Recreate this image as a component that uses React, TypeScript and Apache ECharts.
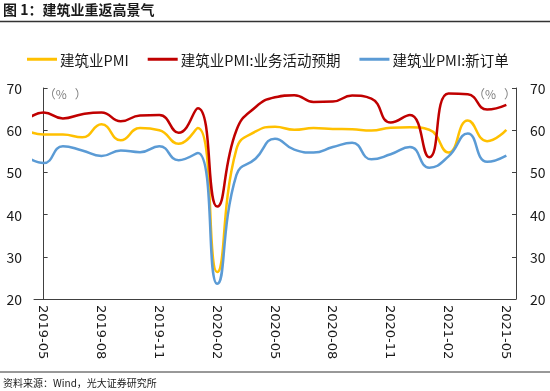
import React, { useEffect, useRef } from 'react';
import * as echarts from 'echarts';

// Months of data (first month lies just left of the plotted window and is clipped)
const dataMonths = [
  '2019-04', '2019-05', '2019-06', '2019-07', '2019-08', '2019-09', '2019-10', '2019-11', '2019-12',
  '2020-01', '2020-02', '2020-03', '2020-04', '2020-05', '2020-06', '2020-07', '2020-08', '2020-09',
  '2020-10', '2020-11', '2020-12', '2021-01', '2021-02', '2021-03', '2021-04', '2021-05',
];
const axisMonths = dataMonths.slice(1);

const seriesNames = ['建筑业PMI', '建筑业PMI:业务活动预期', '建筑业PMI:新订单'];

const pmi = [
  60.2, 59.0, 59.0, 58.3, 61.4, 57.6, 60.5, 60.0, 56.8,
  60.5, 26.4, 55.5, 59.7, 60.8, 60.1, 60.5, 60.3, 60.2,
  59.9, 60.6, 60.7, 60.1, 54.7, 62.3, 57.4, 60.1,
];
const expectation = [
  62.0, 64.2, 62.8, 63.8, 64.2, 62.1, 63.5, 63.6, 59.4,
  65.2, 41.9, 60.0, 65.5, 67.8, 68.3, 66.7, 66.8, 68.2,
  67.5, 61.8, 63.6, 53.6, 68.7, 68.5, 64.9, 66.0,
];
const newOrders = [
  54.0, 52.2, 56.2, 55.2, 53.9, 55.2, 54.8, 56.2, 52.9,
  54.6, 23.6, 49.4, 53.3, 58.0, 55.4, 54.7, 56.0, 57.0,
  53.1, 54.3, 56.0, 51.1, 53.8, 59.2, 52.5, 54.0,
];

const yMin = 20;
const yMax = 70;
const yStep = 10;
const unitText = '（%   ）';

const colors = ['#FFC000', '#C00000', '#5B9BD5'];
const CJK = '"Noto Sans CJK SC", "Noto Sans", sans-serif';

export default function App() {
  const ref = useRef<HTMLDivElement>(null);

  useEffect(() => {
    const chart = echarts.init(ref.current as HTMLDivElement, null, { renderer: 'svg' });
    const toXY = (arr: number[]) => arr.map((v, k) => [k - 1, v]);
    const yAxisBase = {
      type: 'value',
      min: yMin,
      max: yMax,
      interval: yStep,
      name: unitText,
      nameLocation: 'end',
      nameGap: -11,
      axisLine: { show: true, lineStyle: { color: '#404040', width: 1 } },
      axisTick: { show: true, inside: true, length: 4, lineStyle: { color: '#404040' } },
      splitLine: { show: false },
      axisLabel: { color: '#1a1a1a', fontSize: 14, fontFamily: CJK },
    };
    chart.setOption({
      animation: false,
      color: colors,
      title: {
        text: '图 1：建筑业重返高景气',
        left: 3,
        top: 2,
        padding: 0,
        textStyle: { fontSize: 14, fontWeight: 'bold', color: '#1a1a1a', fontFamily: CJK },
      },
      legend: {
        data: seriesNames,
        left: 22,
        top: 47,
        icon: 'rect',
        itemWidth: 30,
        itemHeight: 3,
        itemGap: 19,
        textStyle: { fontSize: 14.5, color: '#1a1a1a', fontFamily: CJK, padding: [0, 0, 0, -2] },
      },
      grid: { left: 34, right: 34, top: 88, bottom: 92, containLabel: false },
      xAxis: [
        {
          type: 'category',
          data: axisMonths,
          boundaryGap: true,
          axisLine: { lineStyle: { color: '#404040', width: 1 } },
          axisTick: { interval: 2, length: 4, lineStyle: { color: '#404040' } },
          axisLabel: {
            interval: 2,
            rotate: -90,
            color: '#1a1a1a',
            fontSize: 13,
            fontFamily: '"DejaVu Sans", sans-serif',
            margin: 6,
          },
        },
        {
          type: 'value',
          min: -0.5,
          max: axisMonths.length - 0.5,
          show: false,
        },
      ],
      yAxis: [
        {
          ...yAxisBase,
          position: 'left',
          nameTextStyle: { fontSize: 12, color: '#7f7f7f', fontFamily: CJK, align: 'left', padding: [0, 0, 0, 0] },
          axisLabel: { ...yAxisBase.axisLabel, margin: 12 },
        },
        {
          ...yAxisBase,
          position: 'right',
          nameTextStyle: { fontSize: 12, color: '#7f7f7f', fontFamily: CJK, align: 'right', padding: [0, 0, 0, 0] },
          axisLabel: { ...yAxisBase.axisLabel, margin: 14 },
        },
      ],
      series: [
        { name: seriesNames[0], data: toXY(pmi) },
        { name: seriesNames[1], data: toXY(expectation) },
        { name: seriesNames[2], data: toXY(newOrders) },
      ].map((s, k) => ({
        ...s,
        type: 'line',
        xAxisIndex: 1,
        yAxisIndex: 0,
        smooth: 0.5,
        symbol: 'none',
        clip: true,
        lineStyle: { width: 2.5, color: colors[k] },
      })),
      graphic: [
        { type: 'line', shape: { x1: 0, y1: 21.5, x2: 550, y2: 21.5 }, style: { stroke: '#333333', lineWidth: 1.5 } },
        { type: 'line', shape: { x1: 0, y1: 372, x2: 550, y2: 372 }, style: { stroke: '#333333', lineWidth: 1 } },
        {
          type: 'text',
          left: 3,
          top: 377,
          style: { text: '资料来源：Wind，光大证券研究所', fontSize: 10, fill: '#1a1a1a', fontFamily: CJK },
        },
      ],
    });
    return () => chart.dispose();
  }, []);

  return <div ref={ref} style={{ position: 'fixed', left: 0, top: 0, width: 550, height: 391 }} />;
}
